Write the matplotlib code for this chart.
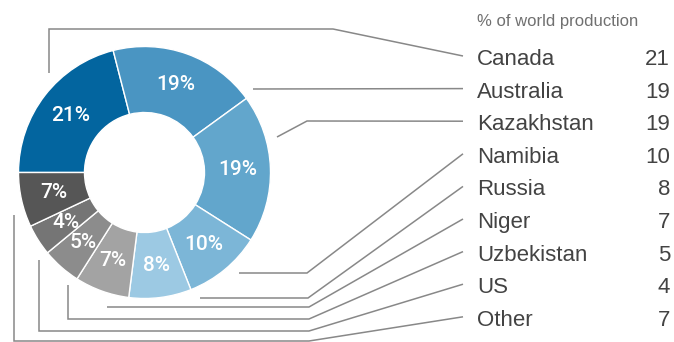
import matplotlib
matplotlib.use("Agg")
import matplotlib.pyplot as plt

plt.rcParams["font.family"] = ["Liberation Sans", "DejaVu Sans"]

# World uranium production by country, % share
countries = ["Canada", "Australia", "Kazakhstan", "Namibia", "Russia",
             "Niger", "Uzbekistan", "US", "Other"]
shares = [21, 19, 19, 10, 8, 7, 5, 4, 7]
colors = ["#03659f", "#4a95c2", "#62a6cc", "#7cb6d7", "#9cc9e3",
          "#a3a3a3", "#8c8c8c", "#757575", "#565656"]
subtitle = "% of world production"

W, H = 674, 342
fig = plt.figure(figsize=(W / 100, H / 100), dpi=100)
ax = fig.add_axes([0, 0, 1, 1])


def Y(y):
    # convert a top-down pixel row into the axes' upward y coordinate
    return H - y


# donut
cx, cy, R, ring = 144.5, 172.5, 126, 66
wedges, texts, autotexts = ax.pie(
    shares, colors=colors, startangle=180, counterclock=False,
    center=(cx, Y(cy)), radius=R,
    wedgeprops=dict(width=ring, edgecolor="white", linewidth=1.0),
    autopct=lambda p: f"{round(p):d}%", pctdistance=0.74,
    textprops=dict(color="white", fontsize=15,
                   family=["Roboto", "Liberation Sans", "DejaVu Sans"],
                   fontweight="medium"),
)
for t in autotexts:
    t.set_ha("center")
    t.set_va("center")

ax.set_xlim(0, W)
ax.set_ylim(0, H)
ax.set_aspect("auto")
ax.axis("off")

# legend table on the right
label_x, value_x = 477, 670
row0, row_step = 65, 32.6
ax.text(label_x, Y(26), subtitle, fontsize=12, color="#707070",
        ha="left", va="baseline")
baselines = []
for i, (name, val) in enumerate(zip(countries, shares)):
    b = row0 + i * row_step
    baselines.append(b)
    ax.text(label_x, Y(b), name, fontsize=16, color="#434343",
            ha="left", va="baseline")
    ax.text(value_x, Y(b), f"{val}", fontsize=16, color="#434343",
            ha="right", va="baseline")

# leader lines from the ring to each label row
routes = [
    [(49, 73), (49, 29), (333, 29)],
    [(253, 89)],
    [(277, 137), (307, 121)],
    [(239, 273), (307, 273)],
    [(200, 298), (308, 298)],
    [(107, 307), (309, 307)],
    [(68, 285), (68, 319), (309, 319)],
    [(39, 260), (39, 331), (309, 331)],
    [(14, 215), (14, 341), (309, 341)],
]
line_end_x = 463
for pts, b in zip(routes, baselines):
    pts = pts + [(line_end_x, b - 9)]
    xs = [p[0] for p in pts]
    ys = [Y(p[1]) for p in pts]
    ax.plot(xs, ys, color="#888888", lw=1.1, solid_joinstyle="miter",
            solid_capstyle="butt")

fig.savefig("out.png", dpi=100)
